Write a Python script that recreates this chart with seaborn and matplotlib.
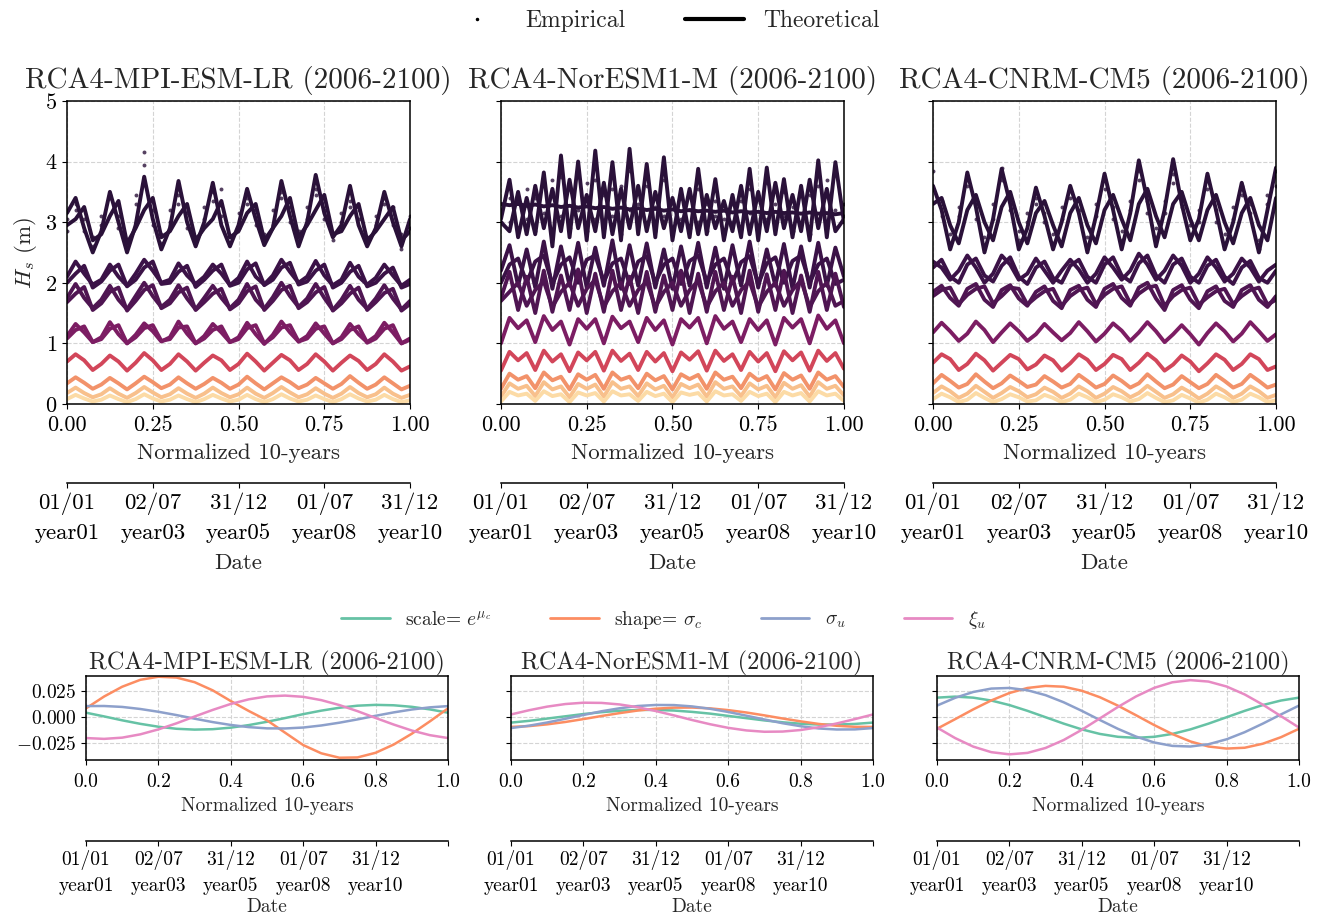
import numpy as np
import matplotlib
matplotlib.use("Agg")
import matplotlib.pyplot as plt
from matplotlib.lines import Line2D
from matplotlib.ticker import FuncFormatter
import seaborn as sns

# =========================
# DATA
# =========================
t_top = np.linspace(0, 1, 41)   # quarter-year steps over normalized 10 years
t_bot = np.linspace(0, 1, 21)

titles = ["RCA4-MPI-ESM-LR (2006-2100)", "RCA4-NorESM1-M (2006-2100)", "RCA4-CNRM-CM5 (2006-2100)"]

date_labels_top = ["01/01\nyear01", "02/07\nyear03", "31/12\nyear05", "01/07\nyear08", "31/12\nyear10"]
date_labels_bot = date_labels_top + [""]

group_colors = ["#2a1139", "#3b1247", "#4f1552", "#7c1d63", "#d2465a", "#f2926a", "#f8c08c", "#fcdba6"]

# ---- RCA4-MPI-ESM-LR quantile curves ----
mpi_g1a = [3.15, 3.40, 2.90, 2.50, 2.85, 3.50, 3.00, 2.50, 2.95, 3.75, 3.05, 2.55,
           2.90, 3.68, 3.00, 2.60, 3.00, 3.65, 2.95, 2.60, 2.95, 3.55, 3.05, 2.62,
           2.90, 3.68, 3.10, 2.60, 3.00, 3.78, 3.15, 2.75, 2.95, 3.60, 2.95, 2.60,
           2.90, 3.50, 3.00, 2.60, 3.05]
mpi_g1b = [2.95, 3.05, 3.25, 2.70, 2.80, 3.10, 3.35, 2.65, 2.90, 3.20, 3.40, 2.75,
           2.85, 3.10, 3.30, 2.70, 2.90, 3.05, 3.35, 2.75, 2.85, 3.15, 3.30, 2.70,
           2.90, 3.10, 3.40, 2.75, 2.95, 3.20, 3.45, 2.80, 2.85, 3.10, 3.30, 2.70,
           2.85, 3.05, 3.25, 2.70, 2.85]
mpi_g2a = [2.10, 2.35, 2.15, 1.97, 2.05, 2.30, 2.10, 1.95, 2.15, 2.38, 2.20, 2.00,
           2.05, 2.32, 2.12, 1.98, 2.10, 2.30, 2.15, 1.96, 2.08, 2.35, 2.10, 1.97,
           2.12, 2.38, 2.18, 2.00, 2.10, 2.36, 2.12, 1.96, 2.05, 2.33, 2.10, 1.97,
           2.08, 2.30, 2.12, 1.95, 2.05]
mpi_g2b = [2.00, 2.15, 2.28, 1.92, 2.02, 2.20, 2.30, 1.94, 2.05, 2.25, 2.35, 1.98,
           2.00, 2.18, 2.28, 1.93, 2.05, 2.20, 2.30, 1.95, 2.00, 2.22, 2.32, 1.96,
           2.05, 2.25, 2.33, 1.97, 2.02, 2.20, 2.30, 1.92, 2.00, 2.18, 2.28, 1.94,
           2.00, 2.15, 2.25, 1.92, 1.98]
mpi_g3a = [1.75, 1.98, 1.75, 1.58, 1.72, 1.95, 1.72, 1.56, 1.78, 2.00, 1.78, 1.60,
           1.72, 1.96, 1.74, 1.56, 1.75, 1.95, 1.75, 1.58, 1.72, 1.98, 1.72, 1.57,
           1.76, 2.00, 1.78, 1.60, 1.74, 1.98, 1.75, 1.55, 1.72, 1.95, 1.72, 1.57,
           1.74, 1.96, 1.74, 1.56, 1.70]
mpi_g3b = [1.68, 1.82, 1.93, 1.55, 1.66, 1.85, 1.92, 1.54, 1.70, 1.88, 1.96, 1.58,
           1.66, 1.84, 1.92, 1.55, 1.68, 1.82, 1.90, 1.56, 1.66, 1.86, 1.94, 1.55,
           1.70, 1.88, 1.95, 1.58, 1.68, 1.84, 1.93, 1.54, 1.66, 1.82, 1.92, 1.55,
           1.68, 1.83, 1.90, 1.54, 1.65]
mpi_g4a = [1.12, 1.32, 1.18, 1.02, 1.10, 1.35, 1.15, 1.00, 1.14, 1.33, 1.20, 1.03,
           1.10, 1.36, 1.16, 1.00, 1.12, 1.32, 1.18, 1.02, 1.10, 1.34, 1.15, 0.99,
           1.14, 1.36, 1.18, 1.03, 1.12, 1.33, 1.16, 1.00, 1.10, 1.32, 1.15, 1.02,
           1.12, 1.34, 1.18, 1.00, 1.08]
mpi_g4b = [1.08, 1.22, 1.28, 1.02, 1.07, 1.24, 1.30, 1.00, 1.10, 1.25, 1.30, 1.04,
           1.07, 1.26, 1.28, 1.00, 1.08, 1.22, 1.28, 1.02, 1.07, 1.25, 1.30, 1.00,
           1.10, 1.26, 1.30, 1.03, 1.08, 1.24, 1.28, 1.00, 1.07, 1.22, 1.28, 1.01,
           1.08, 1.24, 1.30, 1.00, 1.06]
mpi_g5 = [0.70, 0.82, 0.72, 0.56, 0.66, 0.80, 0.70, 0.55, 0.68, 0.84, 0.72, 0.56,
          0.66, 0.82, 0.70, 0.55, 0.68, 0.80, 0.72, 0.56, 0.66, 0.83, 0.70, 0.55,
          0.68, 0.81, 0.72, 0.56, 0.66, 0.82, 0.70, 0.55, 0.68, 0.80, 0.71, 0.56,
          0.66, 0.82, 0.70, 0.55, 0.62]
mpi_g6 = [0.34, 0.44, 0.35, 0.25, 0.32, 0.43, 0.34, 0.24, 0.34, 0.45, 0.36, 0.26,
          0.32, 0.44, 0.34, 0.25, 0.33, 0.43, 0.35, 0.25, 0.32, 0.45, 0.34, 0.24,
          0.34, 0.44, 0.36, 0.26, 0.32, 0.43, 0.34, 0.25, 0.33, 0.46, 0.35, 0.25,
          0.32, 0.44, 0.34, 0.24, 0.30]
mpi_g7 = [0.18, 0.27, 0.18, 0.11, 0.16, 0.26, 0.17, 0.10, 0.18, 0.28, 0.19, 0.11,
          0.16, 0.26, 0.17, 0.10, 0.17, 0.27, 0.18, 0.11, 0.16, 0.27, 0.17, 0.10,
          0.18, 0.28, 0.19, 0.11, 0.16, 0.26, 0.17, 0.10, 0.17, 0.28, 0.18, 0.11,
          0.16, 0.27, 0.17, 0.10, 0.15]
mpi_g8 = [0.08, 0.15, 0.09, 0.04, 0.07, 0.14, 0.08, 0.03, 0.08, 0.16, 0.09, 0.04,
          0.07, 0.14, 0.08, 0.03, 0.08, 0.15, 0.09, 0.04, 0.07, 0.15, 0.08, 0.03,
          0.08, 0.16, 0.09, 0.04, 0.07, 0.14, 0.08, 0.03, 0.08, 0.16, 0.09, 0.04,
          0.07, 0.15, 0.08, 0.03, 0.06]
mpi_emp_a = [3.05, 3.30, 2.85, 2.60, 2.95, 3.40, 3.10, 2.70, 3.30, 4.15, 3.20, 2.65,
             3.00, 3.45, 3.15, 2.70, 3.05, 3.50, 3.55, 2.75, 2.90, 3.40, 3.20, 2.70,
             2.95, 3.50, 3.25, 2.70, 3.05, 3.55, 3.20, 2.80, 3.00, 3.35, 3.05, 2.65,
             2.95, 3.40, 3.25, 2.55, 3.10]
mpi_emp_b = [2.85, 3.20, 3.05, 2.75, 3.10, 3.45, 2.90, 2.60, 3.45, 3.95, 2.95, 2.80,
             3.20, 3.30, 2.90, 2.75, 3.25, 3.35, 3.10, 2.65, 3.15, 3.30, 2.95, 2.80,
             3.20, 3.40, 3.00, 2.85, 3.25, 3.45, 3.05, 2.70, 3.15, 3.25, 3.20, 2.75,
             3.10, 3.30, 2.95, 2.80, 2.90]

# ---- RCA4-NorESM1-M quantile curves ----
nor_g1a = [3.05, 3.70, 2.75, 3.40, 2.80, 3.82, 2.60, 4.10, 2.75, 4.00, 2.70, 4.18,
           2.75, 3.99, 2.70, 4.21, 2.80, 3.96, 2.75, 4.07, 2.70, 3.55, 2.75, 3.88,
           2.80, 3.71, 2.70, 3.45, 2.75, 3.88, 2.70, 3.90, 2.80, 3.71, 2.75, 3.60,
           2.70, 4.02, 2.75, 3.99, 3.00]
nor_g1b = [3.00, 2.85, 3.50, 2.80, 3.60, 2.90, 3.55, 2.85, 3.70, 2.90, 3.45, 2.85,
           3.65, 2.80, 3.55, 2.90, 3.60, 2.85, 3.50, 2.90, 3.40, 2.85, 3.55, 2.80,
           3.45, 2.90, 3.35, 2.85, 3.60, 2.80, 3.50, 2.85, 3.65, 2.90, 3.45, 2.85,
           3.70, 2.90, 3.55, 2.85, 3.05]
nor_g1c = [3.30, 3.28, 3.30, 3.27, 3.29, 3.26, 3.28, 3.25, 3.27, 3.24, 3.26, 3.23,
           3.25, 3.22, 3.24, 3.21, 3.23, 3.20, 3.22, 3.19, 3.21, 3.18, 3.20, 3.18,
           3.19, 3.17, 3.19, 3.16, 3.18, 3.16, 3.17, 3.15, 3.17, 3.15, 3.16, 3.14,
           3.16, 3.14, 3.15, 3.13, 3.15]
nor_g2a = [2.20, 2.62, 1.95, 2.55, 1.92, 2.68, 1.90, 2.60, 1.95, 2.66, 1.92, 2.58,
           1.95, 2.70, 1.90, 2.62, 1.95, 2.65, 1.92, 2.55, 1.90, 2.60, 1.95, 2.66,
           1.92, 2.58, 1.90, 2.62, 1.95, 2.68, 1.92, 2.55, 1.95, 2.64, 1.90, 2.60,
           1.92, 2.66, 1.95, 2.58, 2.10]
nor_g2b = [2.00, 2.30, 2.40, 2.00, 2.35, 2.45, 1.98, 2.30, 2.42, 2.00, 2.38, 2.45,
           2.02, 2.32, 2.40, 1.98, 2.35, 2.44, 2.00, 2.30, 2.40, 1.98, 2.36, 2.45,
           2.02, 2.30, 2.40, 2.00, 2.34, 2.44, 1.98, 2.32, 2.42, 2.00, 2.36, 2.45,
           2.00, 2.30, 2.40, 1.98, 2.05]
nor_g3a = [1.75, 2.18, 1.55, 2.10, 1.50, 2.20, 1.52, 2.12, 1.55, 2.22, 1.50, 2.15,
           1.52, 2.20, 1.55, 2.10, 1.50, 2.18, 1.52, 2.12, 1.55, 2.20, 1.50, 2.15,
           1.52, 2.18, 1.55, 2.10, 1.50, 2.20, 1.52, 2.14, 1.55, 2.20, 1.50, 2.12,
           1.52, 2.18, 1.55, 2.15, 1.60]
nor_g3b = [1.70, 1.85, 2.00, 1.62, 1.88, 2.02, 1.60, 1.85, 2.00, 1.62, 1.90, 2.05,
           1.60, 1.86, 2.00, 1.62, 1.88, 2.02, 1.60, 1.85, 2.00, 1.62, 1.88, 2.03,
           1.60, 1.86, 2.00, 1.62, 1.88, 2.02, 1.60, 1.85, 2.00, 1.62, 1.88, 2.04,
           1.60, 1.86, 2.00, 1.62, 1.70]
nor_g4 = [1.00, 1.42, 1.25, 1.38, 1.02, 1.45, 1.22, 1.36, 0.98, 1.40, 1.24, 1.40,
          1.00, 1.44, 1.25, 1.36, 1.02, 1.42, 1.22, 1.38, 0.98, 1.40, 1.26, 1.42,
          1.00, 1.45, 1.24, 1.36, 1.02, 1.40, 1.22, 1.38, 0.98, 1.42, 1.26, 1.40,
          1.00, 1.46, 1.24, 1.38, 1.00]
nor_g5 = [0.55, 0.86, 0.72, 0.84, 0.56, 0.88, 0.70, 0.82, 0.54, 0.85, 0.72, 0.86,
          0.55, 0.88, 0.71, 0.83, 0.56, 0.86, 0.70, 0.84, 0.54, 0.85, 0.73, 0.87,
          0.55, 0.88, 0.71, 0.82, 0.56, 0.86, 0.70, 0.84, 0.54, 0.87, 0.72, 0.85,
          0.55, 0.88, 0.71, 0.84, 0.58]
nor_g6 = [0.25, 0.50, 0.40, 0.46, 0.26, 0.52, 0.39, 0.45, 0.24, 0.49, 0.40, 0.48,
          0.25, 0.52, 0.40, 0.45, 0.26, 0.50, 0.39, 0.46, 0.24, 0.49, 0.41, 0.48,
          0.25, 0.52, 0.40, 0.45, 0.26, 0.50, 0.39, 0.46, 0.24, 0.51, 0.40, 0.47,
          0.25, 0.52, 0.40, 0.46, 0.28]
nor_g7 = [0.12, 0.34, 0.25, 0.30, 0.13, 0.36, 0.24, 0.29, 0.11, 0.33, 0.25, 0.32,
          0.12, 0.36, 0.25, 0.29, 0.13, 0.34, 0.24, 0.30, 0.11, 0.33, 0.26, 0.32,
          0.12, 0.36, 0.25, 0.29, 0.13, 0.34, 0.24, 0.30, 0.11, 0.35, 0.25, 0.31,
          0.12, 0.36, 0.25, 0.30, 0.14]
nor_g8 = [0.04, 0.20, 0.14, 0.17, 0.05, 0.21, 0.13, 0.16, 0.03, 0.19, 0.14, 0.18,
          0.04, 0.21, 0.14, 0.16, 0.05, 0.20, 0.13, 0.17, 0.03, 0.19, 0.15, 0.18,
          0.04, 0.21, 0.14, 0.16, 0.05, 0.20, 0.13, 0.17, 0.03, 0.20, 0.14, 0.18,
          0.04, 0.21, 0.14, 0.17, 0.05]
nor_emp_a = [3.00, 3.40, 2.90, 3.55, 2.85, 3.60, 2.80, 3.75, 2.90, 3.80, 2.85, 3.70,
             2.90, 3.55, 2.80, 3.85, 2.95, 3.60, 2.85, 3.70, 2.80, 3.40, 2.90, 3.55,
             2.85, 3.35, 2.80, 3.30, 2.90, 3.55, 2.85, 3.65, 2.90, 3.50, 2.85, 3.45,
             2.80, 3.85, 2.90, 3.90, 3.30]
nor_emp_b = [3.20, 3.00, 3.35, 3.05, 3.40, 3.15, 3.70, 3.10, 3.55, 3.20, 3.65, 3.05,
             3.45, 3.10, 3.60, 3.20, 3.30, 3.00, 3.25, 3.10, 3.35, 3.05, 3.20, 3.00,
             3.30, 3.10, 3.05, 3.00, 3.35, 3.15, 3.40, 3.05, 3.30, 3.10, 3.25, 3.00,
             3.45, 3.60, 3.70, 3.20, 3.10]

# ---- RCA4-CNRM-CM5 quantile curves ----
cnrm_g1a = [3.60, 3.20, 2.55, 3.00, 3.82, 3.25, 2.50, 3.05, 3.88, 3.30, 2.55, 2.90,
            3.57, 3.10, 2.55, 3.00, 3.60, 3.15, 2.50, 3.10, 3.80, 3.20, 2.55, 3.15,
            4.02, 3.35, 2.60, 3.20, 4.04, 3.30, 2.70, 3.05, 3.80, 3.20, 2.55, 3.00,
            3.65, 3.10, 2.50, 3.20, 3.90]
cnrm_g1b = [3.30, 3.40, 2.95, 2.65, 3.20, 3.45, 3.00, 2.70, 3.25, 3.50, 3.00, 2.65,
            3.15, 3.35, 2.95, 2.60, 3.15, 3.40, 2.95, 2.65, 3.20, 3.45, 3.05, 2.70,
            3.30, 3.55, 3.10, 2.75, 3.30, 3.50, 3.05, 2.70, 3.20, 3.45, 3.00, 2.65,
            3.15, 3.40, 2.95, 2.70, 3.40]
cnrm_g2a = [2.35, 2.25, 2.05, 2.20, 2.45, 2.25, 2.00, 2.15, 2.45, 2.30, 2.05, 2.15,
            2.40, 2.20, 2.00, 2.20, 2.38, 2.22, 2.00, 2.15, 2.42, 2.25, 2.05, 2.20,
            2.48, 2.30, 2.05, 2.20, 2.45, 2.28, 2.00, 2.15, 2.42, 2.25, 2.02, 2.15,
            2.40, 2.25, 2.02, 2.20, 2.30]
cnrm_g2b = [2.25, 2.38, 2.10, 2.00, 2.30, 2.40, 2.12, 2.02, 2.28, 2.42, 2.10, 1.98,
            2.25, 2.35, 2.08, 2.00, 2.28, 2.38, 2.10, 2.00, 2.30, 2.42, 2.12, 2.02,
            2.32, 2.45, 2.12, 2.00, 2.30, 2.40, 2.10, 2.00, 2.28, 2.38, 2.10, 1.98,
            2.25, 2.36, 2.08, 2.00, 2.20]
cnrm_g3a = [1.85, 1.95, 1.75, 1.62, 1.90, 1.98, 1.72, 1.60, 1.88, 1.96, 1.74, 1.62,
            1.85, 1.94, 1.70, 1.58, 1.88, 1.95, 1.72, 1.60, 1.90, 1.98, 1.75, 1.62,
            1.92, 2.00, 1.74, 1.55, 1.88, 1.96, 1.72, 1.58, 1.86, 1.94, 1.70, 1.60,
            1.88, 1.96, 1.72, 1.60, 1.78]
cnrm_g3b = [1.78, 1.88, 1.92, 1.65, 1.80, 1.90, 1.94, 1.66, 1.78, 1.92, 1.90, 1.64,
            1.76, 1.86, 1.90, 1.62, 1.78, 1.88, 1.92, 1.65, 1.80, 1.90, 1.94, 1.66,
            1.82, 1.92, 1.95, 1.62, 1.78, 1.88, 1.92, 1.64, 1.76, 1.86, 1.90, 1.65,
            1.78, 1.88, 1.92, 1.64, 1.72]
cnrm_g4 = [1.18, 1.34, 1.20, 1.04, 1.16, 1.36, 1.22, 1.02, 1.18, 1.33, 1.20, 1.04,
           1.15, 1.32, 1.18, 1.05, 1.17, 1.35, 1.20, 1.03, 1.16, 1.33, 1.21, 1.04,
           1.18, 1.35, 1.20, 1.02, 1.15, 1.30, 1.15, 0.98, 1.17, 1.33, 1.20, 1.03,
           1.16, 1.35, 1.20, 1.04, 1.15]
cnrm_g5 = [0.68, 0.82, 0.74, 0.56, 0.66, 0.83, 0.72, 0.55, 0.68, 0.81, 0.74, 0.57,
           0.65, 0.80, 0.72, 0.55, 0.67, 0.82, 0.73, 0.56, 0.66, 0.81, 0.74, 0.56,
           0.68, 0.83, 0.72, 0.55, 0.65, 0.80, 0.70, 0.54, 0.67, 0.82, 0.73, 0.56,
           0.66, 0.82, 0.74, 0.56, 0.62]
cnrm_g6 = [0.34, 0.48, 0.38, 0.27, 0.33, 0.49, 0.37, 0.26, 0.34, 0.47, 0.38, 0.28,
           0.32, 0.46, 0.37, 0.27, 0.33, 0.48, 0.38, 0.27, 0.33, 0.47, 0.38, 0.27,
           0.34, 0.49, 0.37, 0.26, 0.32, 0.46, 0.36, 0.26, 0.33, 0.48, 0.38, 0.27,
           0.33, 0.48, 0.38, 0.27, 0.32]
cnrm_g7 = [0.18, 0.29, 0.21, 0.10, 0.17, 0.30, 0.20, 0.10, 0.18, 0.28, 0.21, 0.11,
           0.16, 0.27, 0.20, 0.10, 0.17, 0.29, 0.21, 0.10, 0.17, 0.28, 0.21, 0.11,
           0.18, 0.30, 0.20, 0.10, 0.16, 0.27, 0.19, 0.09, 0.17, 0.29, 0.21, 0.10,
           0.17, 0.29, 0.21, 0.10, 0.15]
cnrm_g8 = [0.08, 0.17, 0.11, 0.03, 0.07, 0.18, 0.10, 0.03, 0.08, 0.16, 0.11, 0.04,
           0.06, 0.15, 0.10, 0.03, 0.07, 0.17, 0.11, 0.03, 0.07, 0.16, 0.11, 0.04,
           0.08, 0.18, 0.10, 0.03, 0.06, 0.15, 0.09, 0.02, 0.07, 0.17, 0.11, 0.03,
           0.07, 0.17, 0.11, 0.03, 0.06]
cnrm_emp_a = [3.85, 3.10, 2.65, 3.10, 3.75, 3.30, 2.60, 3.05, 3.90, 3.20, 2.70, 3.00,
              3.40, 3.15, 2.65, 3.05, 3.55, 3.20, 2.60, 3.10, 3.70, 3.25, 2.70, 3.20,
              3.85, 3.35, 2.75, 3.15, 3.80, 3.25, 2.80, 3.00, 3.70, 3.20, 2.65, 3.05,
              3.60, 3.15, 2.55, 3.30, 3.85]
cnrm_emp_b = [3.55, 3.35, 2.80, 3.25, 3.60, 3.05, 2.75, 3.30, 3.70, 3.40, 2.85, 3.15,
              3.30, 3.00, 2.80, 3.25, 3.40, 3.35, 2.75, 3.30, 3.55, 3.05, 2.85, 3.35,
              3.70, 3.15, 2.90, 3.35, 3.65, 3.40, 2.95, 3.20, 3.55, 3.00, 2.80, 3.25,
              3.45, 3.30, 2.70, 3.45, 3.60]

# ---- parameter curves (bottom row) ----
param_labels = [r"scale= $e^{\mu_c}$", r"shape= $\sigma_c$", r"$\sigma_u$", r"$\xi_u$"]
param_colors = sns.color_palette("Set2", 4)

mpi_scale = [0.0044, 0.0008, -0.0030, -0.0064, -0.0092, -0.0112, -0.0120, -0.0116, -0.0101, -0.0076, -0.0044,
             -0.0008, 0.0030, 0.0064, 0.0092, 0.0112, 0.0120, 0.0116, 0.0101, 0.0076, 0.0044]
mpi_shape = [0.0086, 0.0201, 0.0296, 0.0363, 0.0393, 0.0385, 0.0340, 0.0261, 0.0157, 0.0060, -0.0030,
             -0.0150, -0.0270, -0.0350, -0.0393, -0.0390, -0.0345, -0.0265, -0.0160, -0.0040, 0.0086]
mpi_sigma = [0.0108, 0.0109, 0.0100, 0.0080, 0.0053, 0.0021, -0.0014, -0.0047, -0.0075, -0.0096, -0.0108,
             -0.0109, -0.0100, -0.0080, -0.0053, -0.0021, 0.0014, 0.0047, 0.0075, 0.0096, 0.0108]
mpi_xi = [-0.0202, -0.0210, -0.0198, -0.0166, -0.0118, -0.0059, 0.0007, 0.0071, 0.0129, 0.0174, 0.0202,
          0.0210, 0.0198, 0.0166, 0.0118, 0.0059, -0.0007, -0.0071, -0.0129, -0.0174, -0.0202]

nor_scale = [-0.0052, -0.0035, -0.0013, 0.0009, 0.0031, 0.0049, 0.0063, 0.0071, 0.0071, 0.0065, 0.0052,
             0.0035, 0.0013, -0.0009, -0.0031, -0.0049, -0.0063, -0.0071, -0.0071, -0.0065, -0.0052]
nor_shape = [-0.0094, -0.0086, -0.0069, -0.0046, -0.0018, 0.0012, 0.0040, 0.0065, 0.0083, 0.0093, 0.0094,
             0.0086, 0.0069, 0.0046, 0.0018, -0.0012, -0.0040, -0.0065, -0.0083, -0.0093, -0.0094]
nor_sigma = [-0.0105, -0.0082, -0.0051, -0.0015, 0.0022, 0.0058, 0.0087, 0.0109, 0.0119, 0.0118, 0.0105,
             0.0082, 0.0051, 0.0015, -0.0022, -0.0058, -0.0087, -0.0109, -0.0119, -0.0118, -0.0105]
nor_xi = [0.0027, 0.0068, 0.0103, 0.0128, 0.0141, 0.0139, 0.0124, 0.0097, 0.0060, 0.0018, -0.0027,
          -0.0068, -0.0103, -0.0128, -0.0141, -0.0139, -0.0124, -0.0097, -0.0060, -0.0018, 0.0027]

cnrm_scale = [0.0190, 0.0200, 0.0190, 0.0162, 0.0118, 0.0062, 0.0000, -0.0062, -0.0118, -0.0162, -0.0190,
              -0.0200, -0.0190, -0.0162, -0.0118, -0.0062, 0.0000, 0.0062, 0.0118, 0.0162, 0.0190]
cnrm_shape = [-0.0112, -0.0019, 0.0076, 0.0163, 0.0235, 0.0284, 0.0304, 0.0296, 0.0257, 0.0194, 0.0112,
              0.0019, -0.0076, -0.0163, -0.0235, -0.0284, -0.0304, -0.0296, -0.0257, -0.0194, -0.0112]
cnrm_sigma = [0.0113, 0.0188, 0.0245, 0.0278, 0.0284, 0.0262, 0.0214, 0.0145, 0.0062, -0.0027, -0.0113,
              -0.0188, -0.0245, -0.0278, -0.0284, -0.0262, -0.0214, -0.0145, -0.0062, 0.0027, 0.0113]
cnrm_xi = [-0.0100, -0.0202, -0.0285, -0.0339, -0.0360, -0.0346, -0.0298, -0.0221, -0.0122, -0.0011, 0.0100,
           0.0202, 0.0285, 0.0339, 0.0360, 0.0346, 0.0298, 0.0221, 0.0122, 0.0011, -0.0100]

# (group index, curve) for each top panel
top_curves = [
    [(0, mpi_g1a), (0, mpi_g1b), (1, mpi_g2a), (1, mpi_g2b), (2, mpi_g3a), (2, mpi_g3b),
     (3, mpi_g4a), (3, mpi_g4b), (4, mpi_g5), (5, mpi_g6), (6, mpi_g7), (7, mpi_g8)],
    [(0, nor_g1a), (0, nor_g1b), (0, nor_g1c), (1, nor_g2a), (1, nor_g2b), (2, nor_g3a), (2, nor_g3b),
     (3, nor_g4), (4, nor_g5), (5, nor_g6), (6, nor_g7), (7, nor_g8)],
    [(0, cnrm_g1a), (0, cnrm_g1b), (1, cnrm_g2a), (1, cnrm_g2b), (2, cnrm_g3a), (2, cnrm_g3b),
     (3, cnrm_g4), (4, cnrm_g5), (5, cnrm_g6), (6, cnrm_g7), (7, cnrm_g8)],
]
top_emp = [[mpi_emp_a, mpi_emp_b], [nor_emp_a, nor_emp_b], [cnrm_emp_a, cnrm_emp_b]]
bottom_curves = [
    [mpi_scale, mpi_shape, mpi_sigma, mpi_xi],
    [nor_scale, nor_shape, nor_sigma, nor_xi],
    [cnrm_scale, cnrm_shape, cnrm_sigma, cnrm_xi],
]


# =========================
# STYLE
# =========================
sns.set_style("ticks")
plt.rcParams["font.family"] = "serif"
plt.rcParams["font.serif"] = ["cmr10"]
plt.rcParams["mathtext.fontset"] = "cm"
plt.rcParams["axes.formatter.use_mathtext"] = True
plt.rcParams["axes.edgecolor"] = "black"
plt.rcParams["axes.linewidth"] = 1.1
plt.rcParams["xtick.color"] = "black"
plt.rcParams["ytick.color"] = "black"


def date_axis(ax, ticks, labels, offset, fs, lpad):
    ax2 = ax.twiny()
    ax2.set_xlim(0, 1)
    ax2.xaxis.set_ticks_position("bottom")
    ax2.xaxis.set_label_position("bottom")
    ax2.spines["bottom"].set_position(("outward", offset))
    for s in ["top", "left", "right"]:
        ax2.spines[s].set_visible(False)
    ax2.set_xticks(ticks)
    ax2.set_xticklabels(labels, fontsize=fs)
    for lbl in ax2.get_xticklabels():
        lbl.set_linespacing(1.5)
    ax2.set_xlabel("Date", fontsize=fs, labelpad=lpad)
    ax2.grid(False)
    return ax2


fig = plt.figure(figsize=(13.27, 9.16), dpi=100)

top_left = [0.0505, 0.3775, 0.7031]
bot_left = [0.0648, 0.3851, 0.7061]

# =========================
# TOP ROW: quantiles
# =========================
for i in range(3):
    ax = fig.add_axes([top_left[i], 0.559, 0.2585, 0.3308])
    for g, vals in top_curves[i]:
        sns.lineplot(x=t_top, y=vals, color=group_colors[g], lw=2.8, ax=ax)
    for emp in top_emp[i]:
        sns.scatterplot(x=t_top, y=emp, color=group_colors[0], s=8, linewidth=0, alpha=0.8, ax=ax)

    ax.set_xlim(0, 1)
    ax.set_ylim(0, 5)
    ax.set_xticks([0, 0.25, 0.5, 0.75, 1.0])
    ax.xaxis.set_major_formatter(FuncFormatter(lambda v, _: f"{v:.2f}"))
    ax.set_yticks(range(6))
    ax.grid(True, ls="--", color="#d4d4d4", lw=0.8)
    ax.tick_params(labelsize=16)
    ax.tick_params(axis="x", pad=5)
    ax.set_xlabel("Normalized 10-years", fontsize=16.5, labelpad=6)
    if i == 0:
        ax.set_ylabel("$H_s$ (m)", fontsize=16.5, labelpad=4)
    else:
        ax.set_ylabel("")
        ax.set_yticklabels([])
    ax.set_title(titles[i], fontsize=21, pad=9)
    date_axis(ax, [0, 0.25, 0.5, 0.75, 1.0], date_labels_top, 57, 16.5, 8)

fig.legend(handles=[Line2D([], [], marker=".", color="k", ls="", ms=3),
                    Line2D([], [], color="k", lw=3)],
           labels=["Empirical", "Theoretical"], loc="center", bbox_to_anchor=(0.5, 0.977),
           ncol=2, frameon=False, fontsize=17, handlelength=2.5, columnspacing=2.5)

# =========================
# BOTTOM ROW: parameters
# =========================
for i in range(3):
    ax = fig.add_axes([bot_left[i], 0.1703, 0.2728, 0.0917])
    for j, vals in enumerate(bottom_curves[i]):
        sns.lineplot(x=t_bot, y=vals, color=param_colors[j], lw=1.8, ax=ax)
    ax.set_xlim(0, 1)
    ax.set_ylim(-0.0415, 0.040)
    ax.set_xticks([0, 0.2, 0.4, 0.6, 0.8, 1.0])
    ax.xaxis.set_major_formatter(FuncFormatter(lambda v, _: f"{v:.1f}"))
    ax.set_yticks([-0.025, 0, 0.025])
    ax.yaxis.set_major_formatter(FuncFormatter(lambda v, _: f"${v:.3f}$"))
    ax.grid(True, ls="--", color="#d4d4d4", lw=0.8)
    ax.tick_params(labelsize=14)
    ax.tick_params(axis="x", pad=6)
    ax.set_xlabel("Normalized 10-years", fontsize=14, labelpad=4)
    ax.set_ylabel("")
    if i > 0:
        ax.set_yticklabels([])
    ax.set_title(titles[i], fontsize=17.5, pad=5)
    date_axis(ax, [0, 0.2, 0.4, 0.6, 0.8, 1.0], date_labels_bot, 58, 14, 2)

fig.legend(handles=[Line2D([], [], color=c, lw=2) for c in param_colors],
           labels=param_labels, loc="center", bbox_to_anchor=(0.5, 0.323),
           ncol=4, frameon=False, fontsize=14, handlelength=2.5, columnspacing=3)

plt.savefig("out.png", dpi=100)
